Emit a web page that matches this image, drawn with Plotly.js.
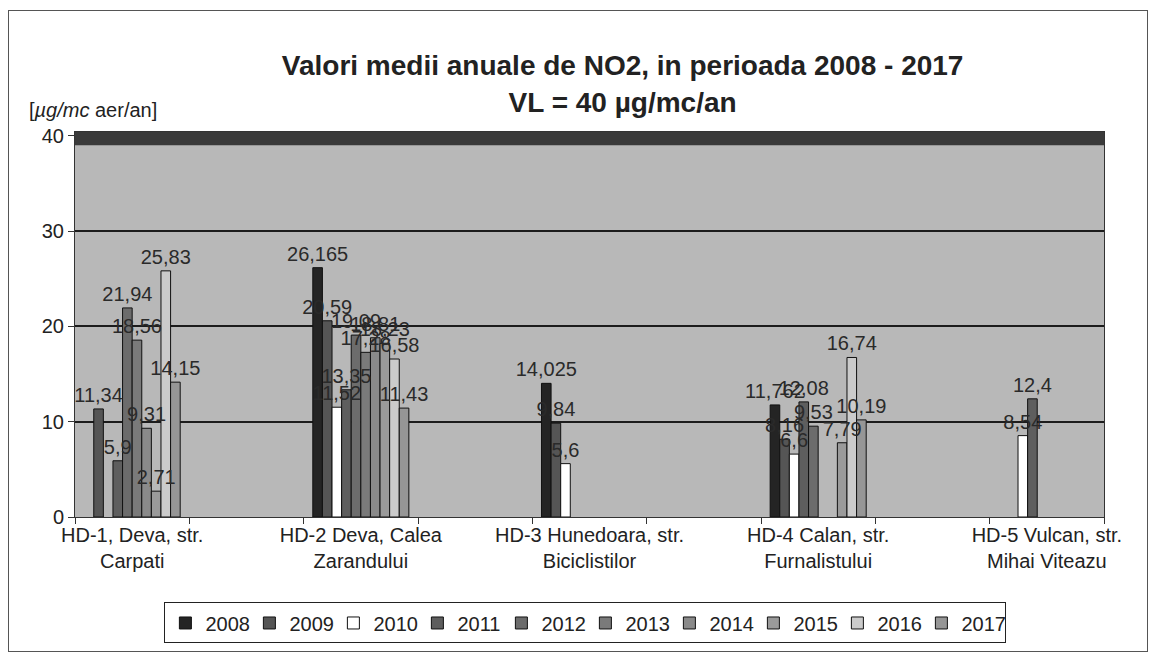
<!DOCTYPE html>
<html>
<head>
<meta charset="utf-8">
<script src="https://cdn.plot.ly/plotly-3.0.1.min.js"></script>
<style>
  html, body { margin: 0; padding: 0; background: #fff; }
  #wrap { position: relative; width: 1153px; height: 656px; }
  #chart { width: 1153px; height: 656px; }
  #frame { position: absolute; left: 8px; top: 10px; width: 1138px; height: 640px;
           border: 1px solid #555; pointer-events: none; }
</style>
</head>
<body>
<div id="wrap">
  <div id="chart"></div>
  <div id="frame"></div>
</div>
<script>
// Categories (blank strings are the empty slots between stations)
const categories = [
  "HD-1, Deva, str.<br>Carpati", " ",
  "HD-2 Deva, Calea<br>Zarandului", "  ",
  "HD-3 Hunedoara, str.<br>Biciclistilor", "   ",
  "HD-4 Calan, str.<br>Furnalistului", "    ",
  "HD-5 Vulcan, str.<br>Mihai Viteazu"
];
const years = ["2008","2009","2010","2011","2012","2013","2014","2015","2016","2017"];

// Values per year, one entry per category slot
const v2008 = [null, null, 26.165, null, 14.025, null, 11.762, null, null];
const v2009 = [11.34, null, 20.59, null, 9.84, null, 8.16, null, null];
const v2010 = [null, null, 11.52, null, 5.6, null, 6.6, null, 8.54];
const v2011 = [5.9, null, 13.35, null, null, null, 12.08, null, 12.4];
const v2012 = [21.94, null, 19.09, null, null, null, 9.53, null, null];
const v2013 = [18.56, null, 17.28, null, null, null, null, null, null];
const v2014 = [9.31, null, 18.81, null, null, null, null, null, null];
const v2015 = [2.71, null, 18.23, null, null, null, 7.79, null, null];
const v2016 = [25.83, null, 16.58, null, null, null, 16.74, null, null];
const v2017 = [14.15, null, 11.43, null, null, null, 10.19, null, null];
const series = [v2008, v2009, v2010, v2011, v2012, v2013, v2014, v2015, v2016, v2017];

const yTicks = [0, 10, 20, 30, 40];
const limitValue = 40;

const colors = ["#242424","#555555","#ffffff","#5e5e5e","#6c6c6c","#7a7a7a",
                "#8a8a8a","#9a9a9a","#cbcbcb","#969696"];

const fontFam = "Liberation Sans, Arial, sans-serif";

// Bars (bottom layer)
const barTraces = series.map((vals, i) => ({
  type: "bar",
  name: years[i],
  x: categories,
  y: vals,
  xaxis: "x", yaxis: "y",
  marker: { color: colors[i], line: { color: "#111", width: 1 } },
  hoverinfo: "skip"
}));

// Same bars, transparent, on an overlaid matched axis so every value label sits above all bars
const labelTraces = series.map((vals, i) => ({
  type: "bar",
  name: years[i] + " labels",
  x: categories,
  y: vals,
  xaxis: "x2", yaxis: "y",
  showlegend: false,
  text: vals.map(v => v === null ? "" : String(v).replace(".", ",")),
  textposition: "outside",
  constraintext: "none",
  cliponaxis: false,
  textfont: { family: fontFam, size: 20, color: "#2a2a2a" },
  marker: { color: "rgba(0,0,0,0)", line: { width: 0 } },
  hoverinfo: "skip"
}));

const layout = {
  width: 1153, height: 656,
  margin: { l: 75, r: 49, t: 132, b: 137 },
  paper_bgcolor: "#ffffff",
  plot_bgcolor: "#b8b8b8",
  font: { family: fontFam, size: 20, color: "#222" },
  title: {
    text: "<b>Valori medii anuale de NO2, in perioada 2008 - 2017<br>VL = 40 µg/mc/an</b>",
    font: { family: fontFam, size: 28, color: "#222" },
    x: 0.54, xanchor: "center", y: 0.885, yanchor: "middle"
  },
  barmode: "group",
  bargap: 0.16,
  bargroupgap: 0,
  showlegend: true,
  legend: {
    orientation: "h",
    x: 0.496, xanchor: "center",
    y: -0.222, yanchor: "top",
    bgcolor: "#ffffff", bordercolor: "#222", borderwidth: 1,
    font: { family: fontFam, size: 20, color: "#222" },
    itemwidth: 30,
    entrywidth: 39, entrywidthmode: "pixels",
    tracegroupgap: 0,
    traceorder: "normal"
  },
  xaxis: {
    type: "category",
    categoryorder: "array", categoryarray: categories,
    tickson: "boundaries",
    ticks: "outside", ticklen: 6, tickcolor: "#333",
    tickangle: 0,
    showgrid: false,
    showline: true, linecolor: "#333", linewidth: 1, mirror: true,
    tickfont: { family: fontFam, size: 20, color: "#222" }
  },
  xaxis2: {
    type: "category",
    categoryorder: "array", categoryarray: categories,
    overlaying: "x", matches: "x",
    visible: false
  },
  yaxis: {
    range: [0, 40.4],
    tickvals: yTicks,
    ticks: "outside", ticklen: 6, tickcolor: "#333",
    showgrid: true, gridcolor: "#1c1c1c", gridwidth: 2,
    zeroline: false,
    showline: true, linecolor: "#333", linewidth: 1, mirror: true,
    tickfont: { family: fontFam, size: 20, color: "#222" }
  },
  shapes: [{
    type: "rect", xref: "paper", yref: "y",
    x0: 0, x1: 1, y0: limitValue - 1.0, y1: 40.4,
    fillcolor: "#3a3a3a", line: { width: 0 }, layer: "above"
  }],
  annotations: [{
    text: "[<i>µg/mc</i> aer/an]",
    xref: "paper", yref: "paper",
    x: -0.047, xanchor: "left",
    y: 1.057, yanchor: "middle",
    showarrow: false,
    font: { family: fontFam, size: 20, color: "#222" }
  }]
};

Plotly.newPlot("chart", barTraces.concat(labelTraces), layout, { displayModeBar: false, staticPlot: true });
</script>
</body>
</html>
